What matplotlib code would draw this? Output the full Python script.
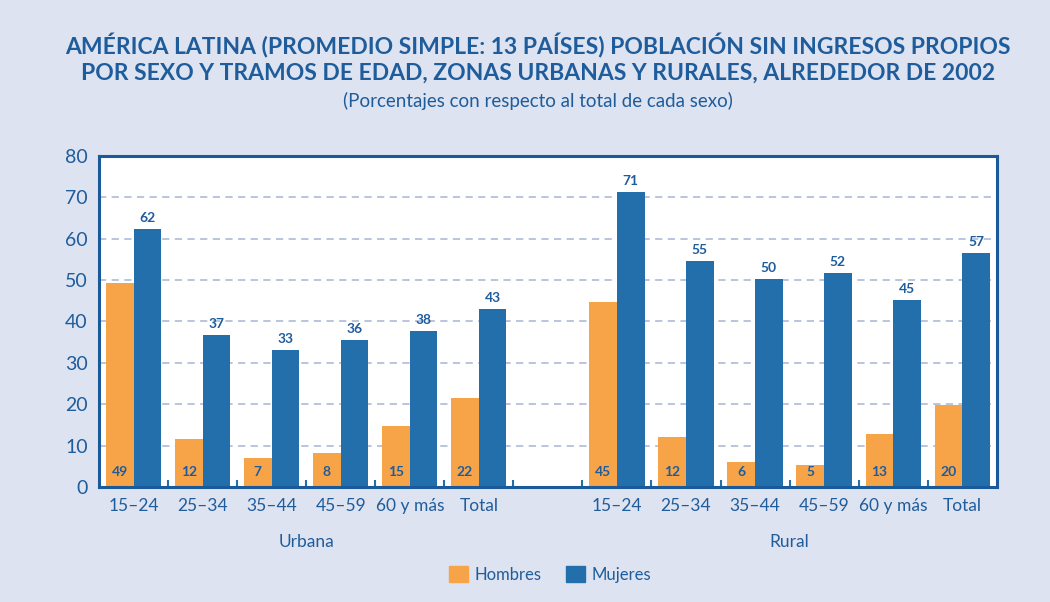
import numpy as np
import matplotlib.pyplot as plt
from matplotlib.patches import Patch

tramos = ['15–24', '25–34', '35–44', '45–59', '60 y más', 'Total']
hombres_urbana = [49.3, 11.7, 6.9, 8.2, 14.8, 21.6]
mujeres_urbana = [62.4, 36.8, 33.2, 35.6, 37.8, 42.9]
hombres_rural = [44.8, 12.1, 6.1, 5.3, 12.7, 19.7]
mujeres_rural = [71.3, 54.6, 50.2, 51.8, 45.3, 56.6]

fondo = '#dde3f0'
azul_txt = '#1f5c9c'
naranja = '#f7a448'
azul = '#236fab'

plt.rcParams['font.family'] = ['Lato', 'DejaVu Sans']

fig = plt.figure(figsize=(10.5, 6.02), dpi=100, facecolor=fondo)
ax = fig.add_axes([0.0943, 0.191, 0.855, 0.550])

n = len(tramos)
x_urb = np.arange(n)
x_rur = np.arange(n) + n + 1
w = 0.4

ax.bar(x_urb - w / 2, hombres_urbana, w, color=naranja, zorder=2)
ax.bar(x_urb + w / 2, mujeres_urbana, w, color=azul, zorder=2)
ax.bar(x_rur - w / 2, hombres_rural, w, color=naranja, zorder=2)
ax.bar(x_rur + w / 2, mujeres_rural, w, color=azul, zorder=2)

for xs, h, m in [(x_urb, hombres_urbana, mujeres_urbana), (x_rur, hombres_rural, mujeres_rural)]:
    for xi, vh, vm in zip(xs, h, m):
        ax.text(xi - w / 2, 2.2, f'{vh:.0f}', ha='center', va='bottom',
                fontsize=10, fontweight='bold', color=azul_txt, zorder=3)
        ax.text(xi + w / 2, vm + 1.2, f'{vm:.0f}', ha='center', va='bottom',
                fontsize=10, fontweight='bold', color=azul_txt, zorder=3)

ax.set_xlim(-0.5, 2 * n + 0.5)
ax.set_ylim(0, 80)
ax.set_yticks(range(0, 81, 10))
ax.set_xticks(list(x_urb) + list(x_rur))
ax.set_xticklabels(tramos + tramos)
ax.set_xticks(np.arange(0.5, 2 * n, 1), minor=True)
ax.tick_params(axis='x', which='major', length=0, labelsize=12.5, labelcolor=azul_txt, pad=8)
ax.tick_params(axis='x', which='minor', direction='in', length=5, width=1.5, color=azul)
ax.tick_params(axis='y', length=0, labelsize=14, labelcolor=azul_txt, pad=8)
ax.yaxis.grid(True, linestyle=(0, (4, 3)), color='#b3bfdb', linewidth=1.3, zorder=0)
ax.set_axisbelow(True)
for s in ax.spines.values():
    s.set_color('#1a5a9a')
    s.set_linewidth(2.2)

ax.text(np.mean(x_urb), -0.165, 'Urbana', transform=ax.get_xaxis_transform(),
        ha='center', va='center', fontsize=12.5, color=azul_txt)
ax.text(np.mean(x_rur), -0.165, 'Rural', transform=ax.get_xaxis_transform(),
        ha='center', va='center', fontsize=12.5, color=azul_txt)

fig.text(0.512, 0.924, 'AMÉRICA LATINA (PROMEDIO SIMPLE: 13 PAÍSES) POBLACIÓN SIN INGRESOS PROPIOS',
         ha='center', va='center', fontsize=16.5, fontweight='bold', color=azul_txt)
fig.text(0.512, 0.878, 'POR SEXO Y TRAMOS DE EDAD, ZONAS URBANAS Y RURALES, ALREDEDOR DE 2002',
         ha='center', va='center', fontsize=16.5, fontweight='bold', color=azul_txt)
fig.text(0.512, 0.832, '(Porcentajes con respecto al total de cada sexo)',
         ha='center', va='center', fontsize=13.5, color=azul_txt)

handles = [Patch(color=naranja, label='Hombres'), Patch(color=azul, label='Mujeres')]
fig.legend(handles=handles, loc='center', bbox_to_anchor=(0.524, 0.046), ncol=2,
           frameon=False, fontsize=12, labelcolor=azul_txt, handlelength=1.1,
           handleheight=1.1, columnspacing=1.5, handletextpad=0.4)

fig.savefig('out.png', dpi=100, facecolor=fondo)
